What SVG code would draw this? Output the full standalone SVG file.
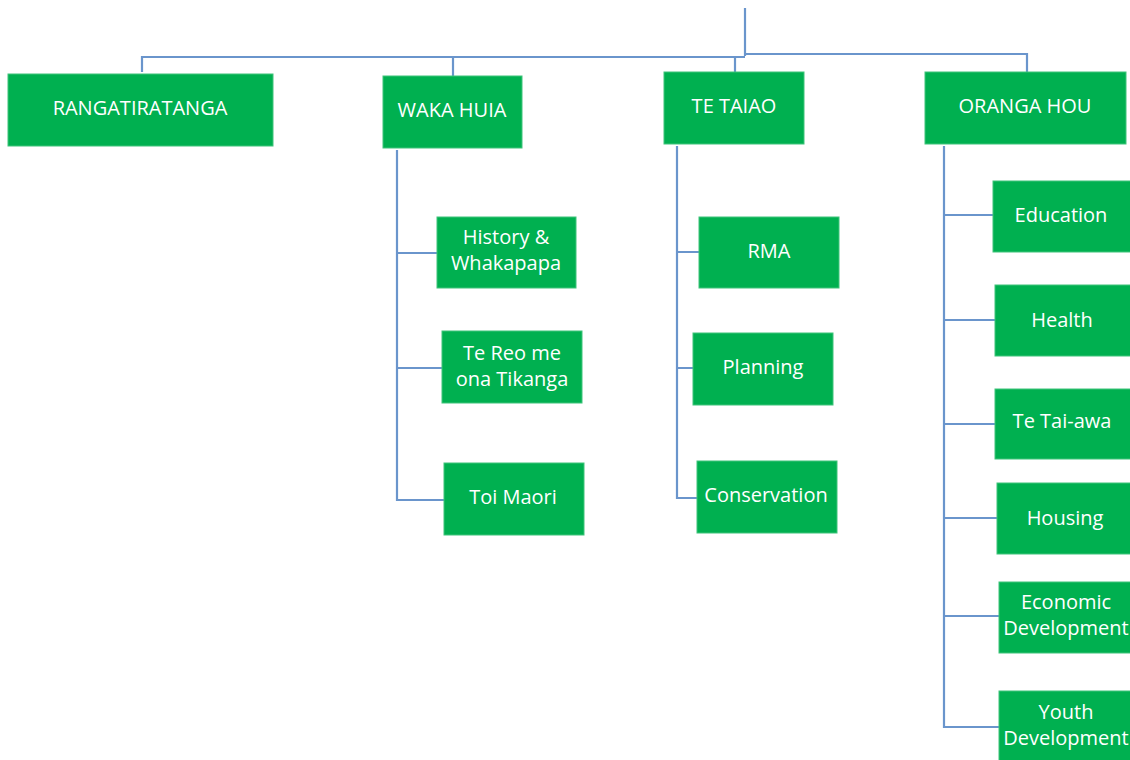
<svg xmlns="http://www.w3.org/2000/svg" width="1130" height="760" viewBox="0 0 1130 760">
<style>
.box{fill:#00B050;stroke:#3fc47a;stroke-width:1}
.t{font-family:"Open Sans","Liberation Sans",sans-serif;font-size:20px;fill:#ffffff;text-anchor:middle}
.c{fill:none;stroke:#6a95cc;stroke-width:2.2}
</style>
<rect width="1130" height="760" fill="#ffffff"/>
<g id="connectors">
<path class="c" d="M745 8 V56"/>
<path class="c" d="M142 72 V57 H745"/>
<path class="c" d="M745 54 H1027 V72"/>
<path class="c" d="M453 76 V58"/>
<path class="c" d="M735 72 V56"/>
<path class="c" d="M397 150 V500 H444"/>
<path class="c" d="M397 253 H437 M397 368 H442"/>
<path class="c" d="M677 146 V498 H697"/>
<path class="c" d="M677 252 H699 M677 368 H693"/>
<path class="c" d="M944 146 V727 H999"/>
<path class="c" d="M944 215 H993 M944 320 H995 M944 424 H995 M944 518 H997 M944 616 H999"/>
</g>
<g id="n-rangatiratanga"><rect class="box" x="8" y="74" width="265" height="72"/><text class="t" x="140" y="115">RANGATIRATANGA</text></g>
<g id="n-wakahuia"><rect class="box" x="383" y="76" width="139" height="72"/><text class="t" x="452" y="117">WAKA HUIA</text></g>
<g id="n-tetaiao"><rect class="box" x="664" y="72" width="140" height="72"/><text class="t" x="734" y="113">TE TAIAO</text></g>
<g id="n-orangahou"><rect class="box" x="925" y="72" width="201" height="72"/><text class="t" x="1025" y="113">ORANGA HOU</text></g>
<g id="n-history"><rect class="box" x="437" y="217" width="139" height="71"/><text class="t" x="506" y="244">History &amp;</text><text class="t" x="506" y="270">Whakapapa</text></g>
<g id="n-tereo"><rect class="box" x="442" y="331" width="140" height="72"/><text class="t" x="512" y="360">Te Reo me</text><text class="t" x="512" y="386">ona Tikanga</text></g>
<g id="n-toimaori"><rect class="box" x="444" y="463" width="140" height="72"/><text class="t" x="513" y="504">Toi Maori</text></g>
<g id="n-rma"><rect class="box" x="699" y="217" width="140" height="71"/><text class="t" x="769" y="258">RMA</text></g>
<g id="n-planning"><rect class="box" x="693" y="333" width="140" height="72"/><text class="t" x="763" y="374">Planning</text></g>
<g id="n-conservation"><rect class="box" x="697" y="461" width="140" height="72"/><text class="t" x="766" y="502">Conservation</text></g>
<g id="n-education"><rect class="box" x="993" y="181" width="140" height="71"/><text class="t" x="1061" y="222">Education</text></g>
<g id="n-health"><rect class="box" x="995" y="285" width="140" height="71"/><text class="t" x="1062" y="327">Health</text></g>
<g id="n-tetaiawa"><rect class="box" x="995" y="389" width="140" height="70"/><text class="t" x="1062" y="428">Te Tai-awa</text></g>
<g id="n-housing"><rect class="box" x="997" y="483" width="140" height="71"/><text class="t" x="1065" y="525">Housing</text></g>
<g id="n-economic"><rect class="box" x="999" y="582" width="140" height="71"/><text class="t" x="1066" y="609">Economic</text><text class="t" x="1066" y="635">Development</text></g>
<g id="n-youth"><rect class="box" x="999" y="691" width="140" height="71"/><text class="t" x="1066" y="719">Youth</text><text class="t" x="1066" y="745">Development</text></g>
</svg>
